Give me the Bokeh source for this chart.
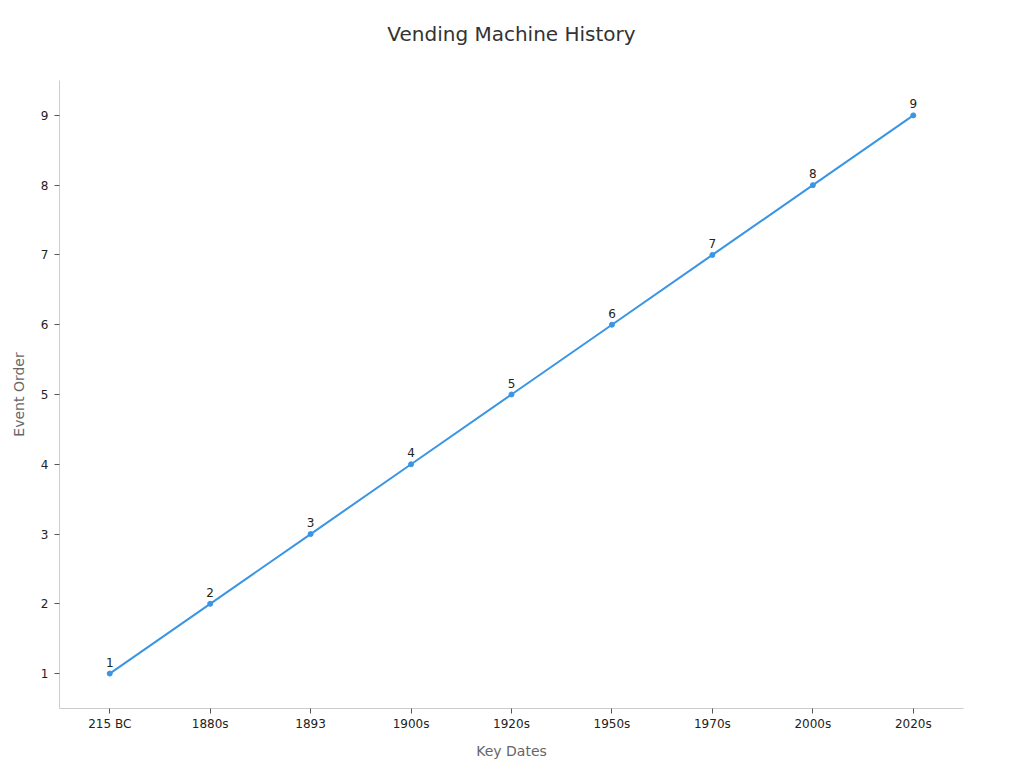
from bokeh.plotting import figure
from bokeh.models import ColumnDataSource, Range1d, FactorRange, FixedTicker, LabelSet, Title
from bokeh.core.properties import value
from bokeh.embed import file_html
from bokeh.resources import INLINE

dates = ["215 BC", "1880s", "1893", "1900s", "1920s", "1950s", "1970s", "2000s", "2020s"]
order = [1, 2, 3, 4, 5, 6, 7, 8, 9]
labels = [str(v) for v in order]
title_text = "Vending Machine History"

src = ColumnDataSource(dict(x=dates, y=order, t=labels))

FONT = "DejaVu Sans"
COLOR = "#3a95e4"
FW, FH = 904, 628

p = figure(x_range=FactorRange(*dates), y_range=Range1d(0.5, 9.5),
           frame_width=FW, frame_height=FH,
           min_border_left=59, min_border_right=53, min_border_top=0, min_border_bottom=52,
           output_backend="svg", toolbar_location=None)

# spacer between title and frame
p.add_layout(Title(text=" ", text_font_size="1px", standoff=13), "above")
p.add_layout(Title(text=title_text, align="center", offset=1, standoff=38,
                   text_font=FONT, text_font_size="20px", text_font_style="normal",
                   text_color="#333333"), "above")

p.line("x", "y", source=src, line_color=COLOR, line_width=2)
p.scatter("x", "y", source=src, size=5, fill_color=COLOR, line_color=COLOR)

p.add_layout(LabelSet(x="x", y="y", text="t", source=src, y_offset=7,
                      text_align="center", text_baseline="bottom",
                      text_font_size="12px", text_color="#222222",
                      text_font=value(FONT)))

p.xgrid.visible = False
p.ygrid.visible = False
p.outline_line_color = None

p.yaxis.ticker = FixedTicker(ticks=order)
p.yaxis.minor_tick_line_color = None

for ax in (p.xaxis, p.yaxis):
    ax.axis_line_color = "#cccccc"
    ax.major_tick_line_color = "#555555"
    ax.major_tick_out = 5
    ax.major_tick_in = 0
    ax.major_label_text_font = FONT
    ax.major_label_text_font_size = "12px"
    ax.major_label_text_color = "#222222"
    ax.axis_label_text_font = FONT
    ax.axis_label_text_font_size = "14px"
    ax.axis_label_text_font_style = "normal"
    ax.axis_label_text_color = "#666666"

p.xaxis.axis_label = "Key Dates"
p.yaxis.axis_label = "Event Order"
p.xaxis.major_label_standoff = 3
p.xaxis.axis_label_standoff = 9
p.yaxis.major_label_standoff = 6
p.yaxis.axis_label_standoff = 11

open("out.html", "w").write(file_html(p, INLINE))
